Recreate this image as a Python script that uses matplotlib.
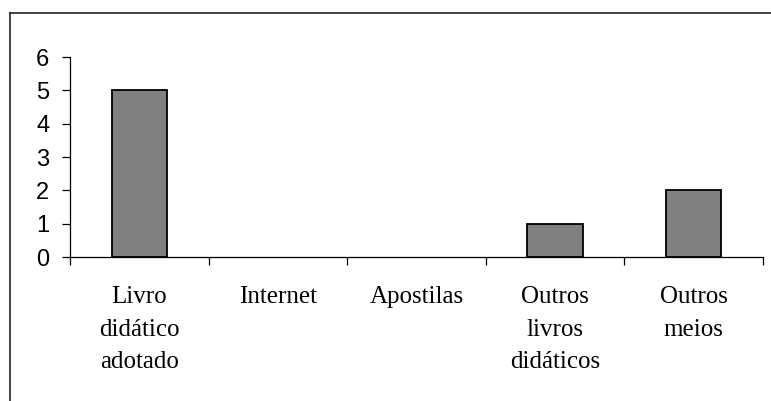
import matplotlib
matplotlib.use("Agg")
import matplotlib.pyplot as plt
from matplotlib.lines import Line2D
import numpy as np

categories = ["Livro\ndidático\nadotado", "Internet", "Apostilas",
              "Outros\nlivros\ndidáticos", "Outros\nmeios"]
values = [5, 0, 0, 1, 2]
yticks = [0, 1, 2, 3, 4, 5, 6]

fig = plt.figure(figsize=(7.71, 4.01), dpi=100)
ax = fig.add_axes([70 / 771, 1 - 257 / 401, (763 - 70) / 771, 200 / 401])

x = np.arange(len(categories))
edge_widths = [1.3 if v > 0 else 0 for v in values]
ax.bar(x, values, width=0.4, color="#808080", edgecolor="black",
       linewidth=edge_widths, zorder=1.5)

ax.set_xlim(-0.5, len(categories) - 0.5)
ax.set_ylim(0, 6)
ax.set_yticks(yticks)
ax.set_yticklabels([str(v) for v in yticks], family="Liberation Sans", fontsize=17)
ax.tick_params(axis="y", direction="out", length=6, width=0.9, pad=9)

ax.set_xticks(x)
ax.set_xticklabels(categories, family="Liberation Serif", fontsize=18, linespacing=1.62,
                   va="top", ha="center")
ax.tick_params(axis="x", which="major", length=0, pad=21)
ax.set_xticks(np.arange(-0.5, len(categories), 1.0), minor=True)
ax.tick_params(axis="x", which="minor", direction="out", length=6, width=0.9)

for side in ("top", "right"):
    ax.spines[side].set_visible(False)
for side in ("left", "bottom"):
    ax.spines[side].set_linewidth(0.9)
    ax.spines[side].set_color("black")

# outer frame lines (left and top)
fig.add_artist(Line2D([9.5 / 771, 9.5 / 771], [0, 1 - 12.5 / 401], transform=fig.transFigure,
                      color="#222222", linewidth=1.2))
fig.add_artist(Line2D([9.5 / 771, 1.0], [1 - 12.5 / 401, 1 - 12.5 / 401], transform=fig.transFigure,
                      color="#222222", linewidth=1.2))

fig.savefig("out.png", dpi=100)
